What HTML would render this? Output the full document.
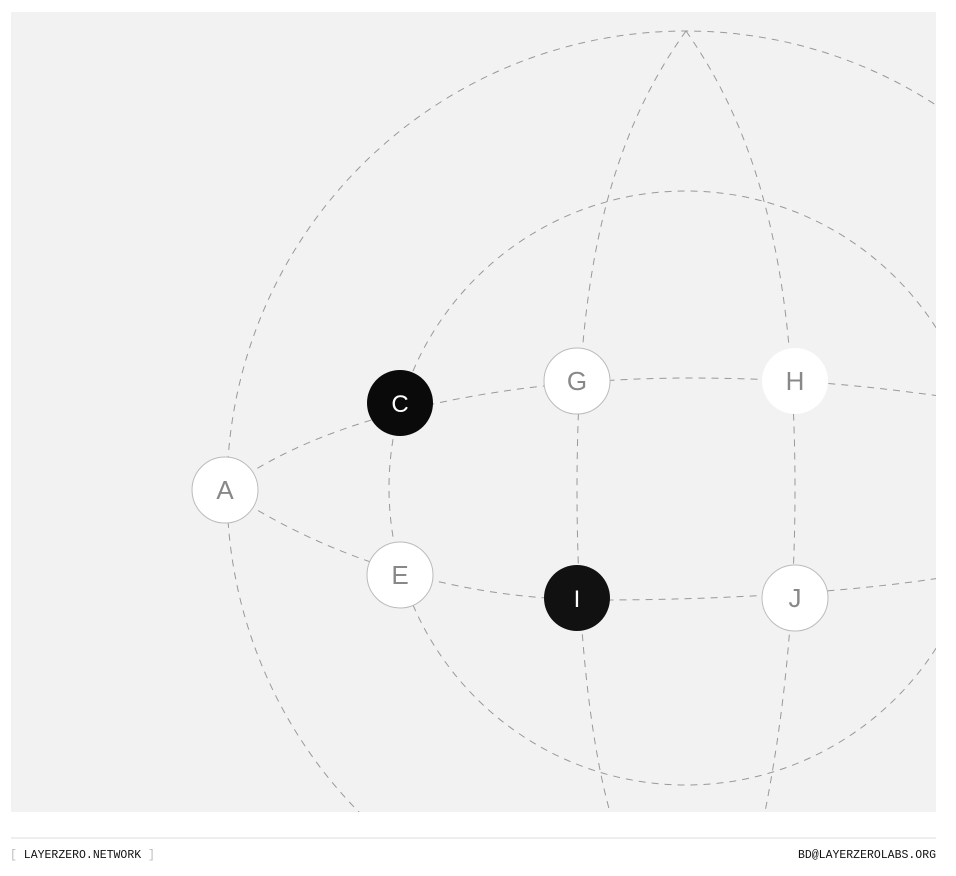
<!DOCTYPE html>
<html style="overflow:hidden"><head><style>
html,body{margin:0;padding:0}
body{background:#fff;width:956px;height:876px;position:relative;overflow:hidden;font-family:"Liberation Sans",sans-serif}
.ft{position:absolute;top:849px;font-family:"Liberation Mono",monospace;font-size:11.5px;line-height:14px;color:#111;white-space:nowrap}
</style></head><body>
<svg width="956" height="876" style="position:absolute;left:0;top:0;display:block">
<defs><clipPath id="cp"><rect x="11" y="12" width="925" height="800"/></clipPath></defs>
<rect x="11" y="12" width="925" height="800" fill="#f2f2f2"/>
<g clip-path="url(#cp)" fill="none" stroke="#999" stroke-width="1" stroke-dasharray="7 6">
<circle cx="686" cy="490" r="459"/>
<circle cx="686" cy="488" r="297"/>
<path d="M686,31 C600,150 577,300 577,490 C577,650 595,760 610,812"/>
<path d="M686,31 C770,150 795,300 795,490 C795,650 775,760 765,812"/>
<path d="M225,490 C330,410 520,378 690,378 C800,378 880,388 940,396"/>
<path d="M225,490 C330,560 460,600 600,600 C720,600 850,592 940,578"/>
</g>
<line x1="11" y1="838" x2="936" y2="838" stroke="#ddd"/>
<g font-family="Liberation Sans, sans-serif" font-size="26" text-anchor="middle">
<circle cx="225" cy="490" r="33" fill="#fff" stroke="#bbb"/><text x="225" y="499" fill="#888">A</text>
<circle cx="400" cy="403" r="33" fill="#0a0a0a"/><text x="400" y="412" fill="#fff" font-size="24">C</text>
<circle cx="577" cy="381" r="33" fill="#fff" stroke="#bbb"/><text x="577" y="390" fill="#888">G</text>
<circle cx="795" cy="381" r="33" fill="#fff"/><text x="795" y="390" fill="#888">H</text>
<circle cx="400" cy="575" r="33" fill="#fff" stroke="#bbb"/><text x="400" y="584" fill="#888">E</text>
<circle cx="577" cy="598" r="33" fill="#111"/><text x="577" y="607" fill="#fff" font-size="24">I</text>
<circle cx="795" cy="598" r="33" fill="#fff" stroke="#bbb"/><text x="795" y="607" fill="#888">J</text>
</g>
</svg>
<div class="ft" style="left:10px"><span style="color:#bbb">[</span> LAYERZERO.NETWORK <span style="color:#bbb">]</span></div>
<div class="ft" style="right:20px">BD@LAYERZEROLABS.ORG</div>
</body></html>
